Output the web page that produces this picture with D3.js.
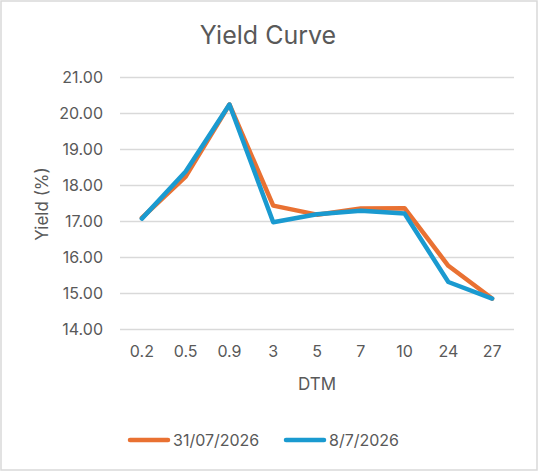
<!DOCTYPE html>
<html><head><meta charset="utf-8">
<script src="https://cdn.jsdelivr.net/npm/d3@7"></script>
<style>
body{margin:0;background:#fff;}
text{font-family:Inter,"Open Sans",sans-serif;fill:#595959;}
</style></head>
<body><svg id="c" width="538" height="471"></svg>
<script>
const categories = ["0.2","0.5","0.9","3","5","7","10","24","27"];
const series1Name = "31/07/2026";
const series1 = [17.10, 18.25, 20.25, 17.44, 17.19, 17.36, 17.37, 15.77, 14.86];
const series2Name = "8/7/2026";
const series2 = [17.08, 18.39, 20.25, 16.98, 17.20, 17.30, 17.22, 15.32, 14.86];
const yTicks = [14,15,16,17,18,19,20,21];

const FONT = 'Inter,"Open Sans",sans-serif';
const svg = d3.select("#c");
svg.append("rect").attr("x",1).attr("y",1).attr("width",536).attr("height",469)
  .attr("fill","#fff").attr("stroke","#d9d9d9").attr("stroke-width",1.5);

const x = d3.scaleBand().domain(categories).range([120,514]);
const y = d3.scaleLinear().domain([14,21]).range([329.5,77.5]);

svg.append("g").selectAll("line").data(yTicks).join("line")
  .attr("x1",120).attr("x2",514).attr("y1",d=>y(d)).attr("y2",d=>y(d))
  .attr("stroke","#d9d9d9").attr("stroke-width",1.5);

const yAxis = svg.append("g").attr("transform","translate(120,0)")
  .call(d3.axisLeft(y).tickValues(yTicks).tickFormat(d3.format(".2f")).tickSize(0).tickPadding(17));
yAxis.select(".domain").remove();
yAxis.selectAll("text").attr("font-size",16).attr("fill","#595959").style("font-family",FONT);

const xAxis = svg.append("g").attr("transform","translate(0,345)")
  .call(d3.axisBottom(x).tickSize(0).tickPadding(0));
xAxis.select(".domain").remove();
xAxis.selectAll("text").attr("font-size",16).attr("fill","#595959").attr("dy","0.75em").style("font-family",FONT);

const line = d3.line().x((d,i)=>x(categories[i])+x.bandwidth()/2).y(d=>y(d));
svg.append("path").datum(series1).attr("d",line).attr("fill","none")
  .attr("stroke","#E97132").attr("stroke-width",4.5).attr("stroke-linejoin","round").attr("stroke-linecap","round");
svg.append("path").datum(series2).attr("d",line).attr("fill","none")
  .attr("stroke","#1A9AD0").attr("stroke-width",4.5).attr("stroke-linejoin","round").attr("stroke-linecap","round");

svg.append("text").attr("x",268).attr("y",44).attr("text-anchor","middle").attr("font-size",25).text("Yield Curve");
svg.append("text").attr("x",317).attr("y",390).attr("text-anchor","middle").attr("font-size",17).text("DTM");
svg.append("text").attr("transform","translate(48,204) rotate(-90)").attr("text-anchor","middle").attr("font-size",17).text("Yield (%)");

const legend = [{n:series1Name,c:"#E97132",x:130},{n:series2Name,c:"#1A9AD0",x:286}];
const lg = svg.append("g").selectAll("g").data(legend).join("g").attr("transform",d=>`translate(${d.x},440)`);
lg.append("line").attr("x1",0).attr("x2",38).attr("y1",0).attr("y2",0).attr("stroke",d=>d.c).attr("stroke-width",4.5).attr("stroke-linecap","round");
lg.append("text").attr("x",43).attr("y",6).attr("font-size",16).text(d=>d.n);
</script></body></html>
